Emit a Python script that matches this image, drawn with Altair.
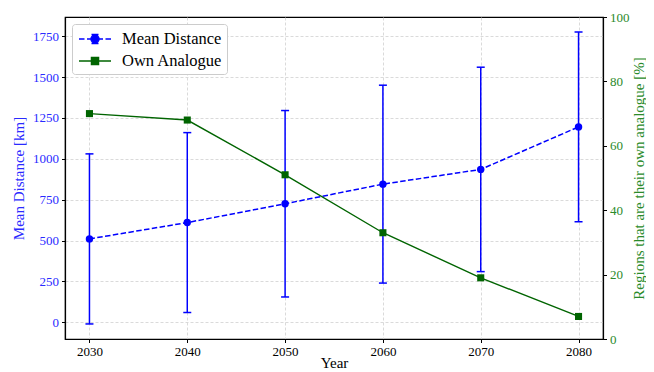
import altair as alt
import pandas as pd

years = [2030, 2040, 2050, 2060, 2070, 2080]
mean_km = [510, 610, 725, 845, 935, 1195]
err_km = [520, 550, 570, 605, 625, 580]
own_pct = [70, 68, 51, 33, 19, 7]
series_names = ["Mean Distance", "Own Analogue"]

BLUE = "#0000ff"
GREEN_LINE = "#006400"
GREEN_TEXT = "#2a8a2a"
FONT = "Liberation Serif"
YDOM = [-102, 1867]

df = pd.DataFrame({
    "year": years,
    "mean": mean_km,
    "lo": [m - e for m, e in zip(mean_km, err_km)],
    "hi": [m + e for m, e in zip(mean_km, err_km)],
    "own": own_pct,
})
leg_df = pd.DataFrame({"year": years[:2], "mean": mean_km[:2], "series": series_names})

x_enc = alt.X(
    "year:Q",
    scale=alt.Scale(domain=[2027.5, 2082.5], nice=False, zero=False),
    axis=alt.Axis(values=years, format="d", title="Year", grid=True, titleColor="black",
                  labelColor="black", titleBaseline="alphabetic", titleY=28),
)
y_left = alt.Y(
    "mean:Q",
    scale=alt.Scale(domain=YDOM, nice=False, zero=False),
    axis=alt.Axis(values=[0, 250, 500, 750, 1000, 1250, 1500, 1750], format="d",
                  title="Mean Distance [km]",
                  labelColor="#2a2aff", titleColor="#2a2aff", grid=True, titlePadding=6),
)

base = alt.Chart(df)

err_rule = base.mark_rule(color=BLUE, strokeWidth=1.5).encode(
    x=x_enc, y=alt.Y("lo:Q", scale=alt.Scale(domain=YDOM, nice=False, zero=False)), y2="hi:Q")
cap_lo = base.mark_tick(color=BLUE, orient="horizontal", size=8, thickness=1.5, opacity=1).encode(
    x=x_enc, y=alt.Y("lo:Q", scale=alt.Scale(domain=YDOM, nice=False, zero=False)))
cap_hi = base.mark_tick(color=BLUE, orient="horizontal", size=8, thickness=1.5, opacity=1).encode(
    x=x_enc, y=alt.Y("hi:Q", scale=alt.Scale(domain=YDOM, nice=False, zero=False)))
mean_line = base.mark_line(color=BLUE, strokeWidth=1.5, strokeDash=[5.5, 2.4]).encode(x=x_enc, y=y_left)
mean_pts = base.mark_circle(color=BLUE, size=55, opacity=1).encode(x=x_enc, y=y_left)

path_mean = ("M-1.6,0H-1.05M-0.8,0H-0.45M0.45,0H0.8M1.05,0H1.6"
             "M0,-0.45V0.45M-0.35,-0.45H0.35M-0.35,0.45H0.35"
             "M0.4,0A0.4,0.4 0 1,1 -0.4,0A0.4,0.4 0 1,1 0.4,0Z")
path_own = "M-1.6,0H1.6M-0.35,-0.35H0.35V0.35H-0.35Z"

legend = alt.Legend(
    title=None, orient="top-left", offset=7, fillColor="white", strokeColor="#cccccc",
    cornerRadius=3, padding=4, labelFont=FONT, labelFontSize=16.5, labelColor="black",
    symbolSize=400, symbolStrokeWidth=1.5, symbolOffset=8, labelOffset=16, rowPadding=2,
    symbolOpacity=1,
)
legend_layer = alt.Chart(leg_df).transform_filter("false").mark_point(filled=True, opacity=1).encode(
    x=x_enc, y=y_left,
    fill=alt.Fill("series:N", scale=alt.Scale(domain=series_names, range=[BLUE, GREEN_LINE]), legend=legend),
    stroke=alt.Stroke("series:N", scale=alt.Scale(domain=series_names, range=[BLUE, GREEN_LINE]), legend=legend),
    shape=alt.Shape("series:N", scale=alt.Scale(domain=series_names, range=[path_mean, path_own]), legend=legend),
)

left = alt.layer(err_rule, cap_lo, cap_hi, mean_line, mean_pts, legend_layer)

y_right = alt.Y(
    "own:Q",
    scale=alt.Scale(domain=[0, 100], nice=False, zero=False),
    axis=alt.Axis(orient="right", values=[0, 20, 40, 60, 80, 100],
                  title="Regions that are their own analogue [%]",
                  labelColor=GREEN_TEXT, titleColor=GREEN_TEXT, grid=False,
                  titleAngle=270, titleBaseline="middle", titleX=35, titleY=161),
)
own_line = base.mark_line(color=GREEN_LINE, strokeWidth=1.4).encode(x=x_enc, y=y_right)
own_pts = base.mark_square(color=GREEN_LINE, size=50, opacity=1).encode(x=x_enc, y=y_right)
right = alt.layer(own_line, own_pts)

chart = alt.layer(left, right).resolve_scale(y="independent").properties(
    width=538, height=322,
    autosize=alt.AutoSizeParams(type="none"),
    padding={"left": 57, "top": 9, "right": 43, "bottom": 30},
).configure_view(stroke="black", strokeWidth=1.2).configure_axis(
    labelFont=FONT, labelFontSize=13, titleFont=FONT, titleFontSize=15, titleFontWeight="normal",
    tickColor="black", domainColor="black", domainWidth=1.2, tickSize=3.5, labelPadding=3,
    gridColor="#d0d0d0", gridDash=[3, 2], gridWidth=0.8,
)

chart.save("out.html", embed_options={"renderer": "svg", "actions": False})
